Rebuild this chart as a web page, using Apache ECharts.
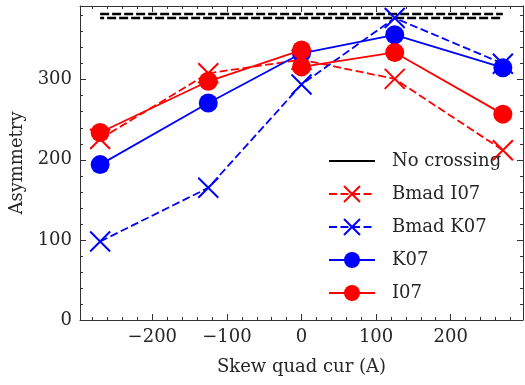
<!DOCTYPE html>
<html>
<head>
<meta charset="utf-8">
<script src="https://cdn.jsdelivr.net/npm/echarts@6/dist/echarts.min.js"></script>
<style>html,body{margin:0;padding:0;background:#fff;}#chart{width:525px;height:385px;}</style>
</head>
<body>
<div id="chart"></div>
<script>
// ---- data ----
const xCur = [-270, -125, 0, 125, 270];
const noCrossingUpper = [382, 382, 382, 382, 382];
const noCrossingLower = [377, 377, 377, 377, 377];
const bmadI07 = [226, 308, 325, 301, 212];
const bmadK07 = [98, 165, 294, 377, 320];
const k07 = [194, 271, 333, 356, 315];
const i07X = [-270, -125, 0, 0, 125, 270];
const i07 = [234, 298, 337, 316, 334, 257];
const xTicks = [-200, -100, 0, 100, 200];
const yTicks = [0, 100, 200, 300];
const xMinor = [-280,-260,-240,-220,-180,-160,-140,-120,-80,-60,-40,-20,20,40,60,80,120,140,160,180,220,240,260,280];
const yMinor = [20,40,60,80,120,140,160,180,220,240,260,280,320,340,360,380];

const pair = (xs, ys) => xs.map((x, i) => [x, ys[i]]);
const FONT = 'DejaVu Serif';
const FS = 18;
const TXT = '#262626';
const AX = '#333';
const X_PATH = 'path://M0,0L10,10M10,0L0,10';

function xAx(pos, ticks, len, showLine, showLabel, extra) {
  return Object.assign({
    type: 'value', position: pos, min: -297, max: 297,
    axisLine: { show: showLine, onZero: false, lineStyle: { color: AX, width: 1 } },
    axisTick: { show: true, inside: true, length: len, customValues: ticks, lineStyle: { color: AX, width: 1 } },
    axisLabel: { show: showLabel, customValues: ticks, margin: 8, color: TXT, fontFamily: FONT, fontSize: FS,
      formatter: v => (v < 0 ? '\u2212' + Math.abs(v) : String(v)) },
    splitLine: { show: false }
  }, extra || {});
}
function yAx(pos, ticks, len, showLine, showLabel, extra) {
  return Object.assign({
    type: 'value', position: pos, min: 0, max: 392,
    axisLine: { show: showLine, onZero: false, lineStyle: { color: AX, width: 1 } },
    axisTick: { show: true, inside: true, length: len, customValues: ticks, lineStyle: { color: AX, width: 1 } },
    axisLabel: { show: showLabel, customValues: ticks, margin: 8, color: TXT, fontFamily: FONT, fontSize: FS },
    splitLine: { show: false }
  }, extra || {});
}

const chart = echarts.init(document.getElementById('chart'), null, { renderer: 'canvas' });
chart.setOption({
  animation: false,
  backgroundColor: '#fff',
  grid: { left: 80, right: 2, top: 6, bottom: 65, containLabel: false },
  xAxis: [
    xAx('bottom', xTicks, 6, true, true, {
      name: 'Skew quad cur (A)', nameLocation: 'middle', nameGap: 38,
      nameTextStyle: { color: TXT, fontFamily: FONT, fontSize: FS }
    }),
    xAx('bottom', xMinor, 3, false, false),
    xAx('top', xTicks, 6, true, false),
    xAx('top', xMinor, 3, false, false)
  ],
  yAxis: [
    yAx('left', yTicks, 6, true, true, {
      name: 'Asymmetry', nameLocation: 'middle', nameGap: 50, nameRotate: 90,
      nameTextStyle: { color: TXT, fontFamily: FONT, fontSize: FS }
    }),
    yAx('left', yMinor, 3, false, false),
    yAx('right', yTicks, 6, true, false),
    yAx('right', yMinor, 3, false, false)
  ],
  legend: {
    orient: 'vertical', left: 323, top: 147, itemWidth: 46, itemHeight: 20, itemGap: 15,
    textStyle: { color: TXT, fontFamily: FONT, fontSize: FS, padding: [0, 0, 0, 12] },
    data: [
      { name: 'No crossing', itemStyle: { color: 'transparent', opacity: 0, borderWidth: 0 },
        lineStyle: { type: 'solid', width: 2, color: '#000' } },
      { name: 'Bmad I07' },
      { name: 'Bmad K07' },
      { name: 'K07' },
      { name: 'I07' }
    ]
  },
  series: [
    { name: 'No crossing', type: 'line', data: pair(xCur, noCrossingUpper), symbol: 'none',
      lineStyle: { color: '#000', width: 2.5, type: [9, 3] }, itemStyle: { color: '#000' }, z: 1 },
    { name: 'No crossing', type: 'line', data: pair(xCur, noCrossingLower), symbol: 'none',
      lineStyle: { color: '#000', width: 2.5, type: [9, 3], dashOffset: 5 }, itemStyle: { color: '#000' }, z: 1 },
    { name: 'Bmad I07', type: 'line', data: pair(xCur, bmadI07), symbol: X_PATH, symbolSize: 20,
      lineStyle: { color: '#ff0000', width: 1.8, type: [8, 3.5] },
      itemStyle: { color: '#ff0000', borderColor: '#ff0000', borderWidth: 2 }, z: 2 },
    { name: 'Bmad K07', type: 'line', data: pair(xCur, bmadK07), symbol: X_PATH, symbolSize: 20,
      lineStyle: { color: '#0000ff', width: 1.8, type: [8, 3.5] },
      itemStyle: { color: '#0000ff', borderColor: '#0000ff', borderWidth: 2 }, z: 3 },
    { name: 'K07', type: 'line', data: pair(xCur, k07), symbol: 'circle', symbolSize: 19,
      lineStyle: { color: '#0000ff', width: 1.8 }, itemStyle: { color: '#0000ff', borderWidth: 0 }, z: 4 },
    { name: 'I07', type: 'line', data: pair(i07X, i07), symbol: 'circle', symbolSize: 19,
      lineStyle: { color: '#ff0000', width: 1.8 }, itemStyle: { color: '#ff0000', borderWidth: 0 }, z: 5 }
  ]
});
</script>
</body>
</html>
